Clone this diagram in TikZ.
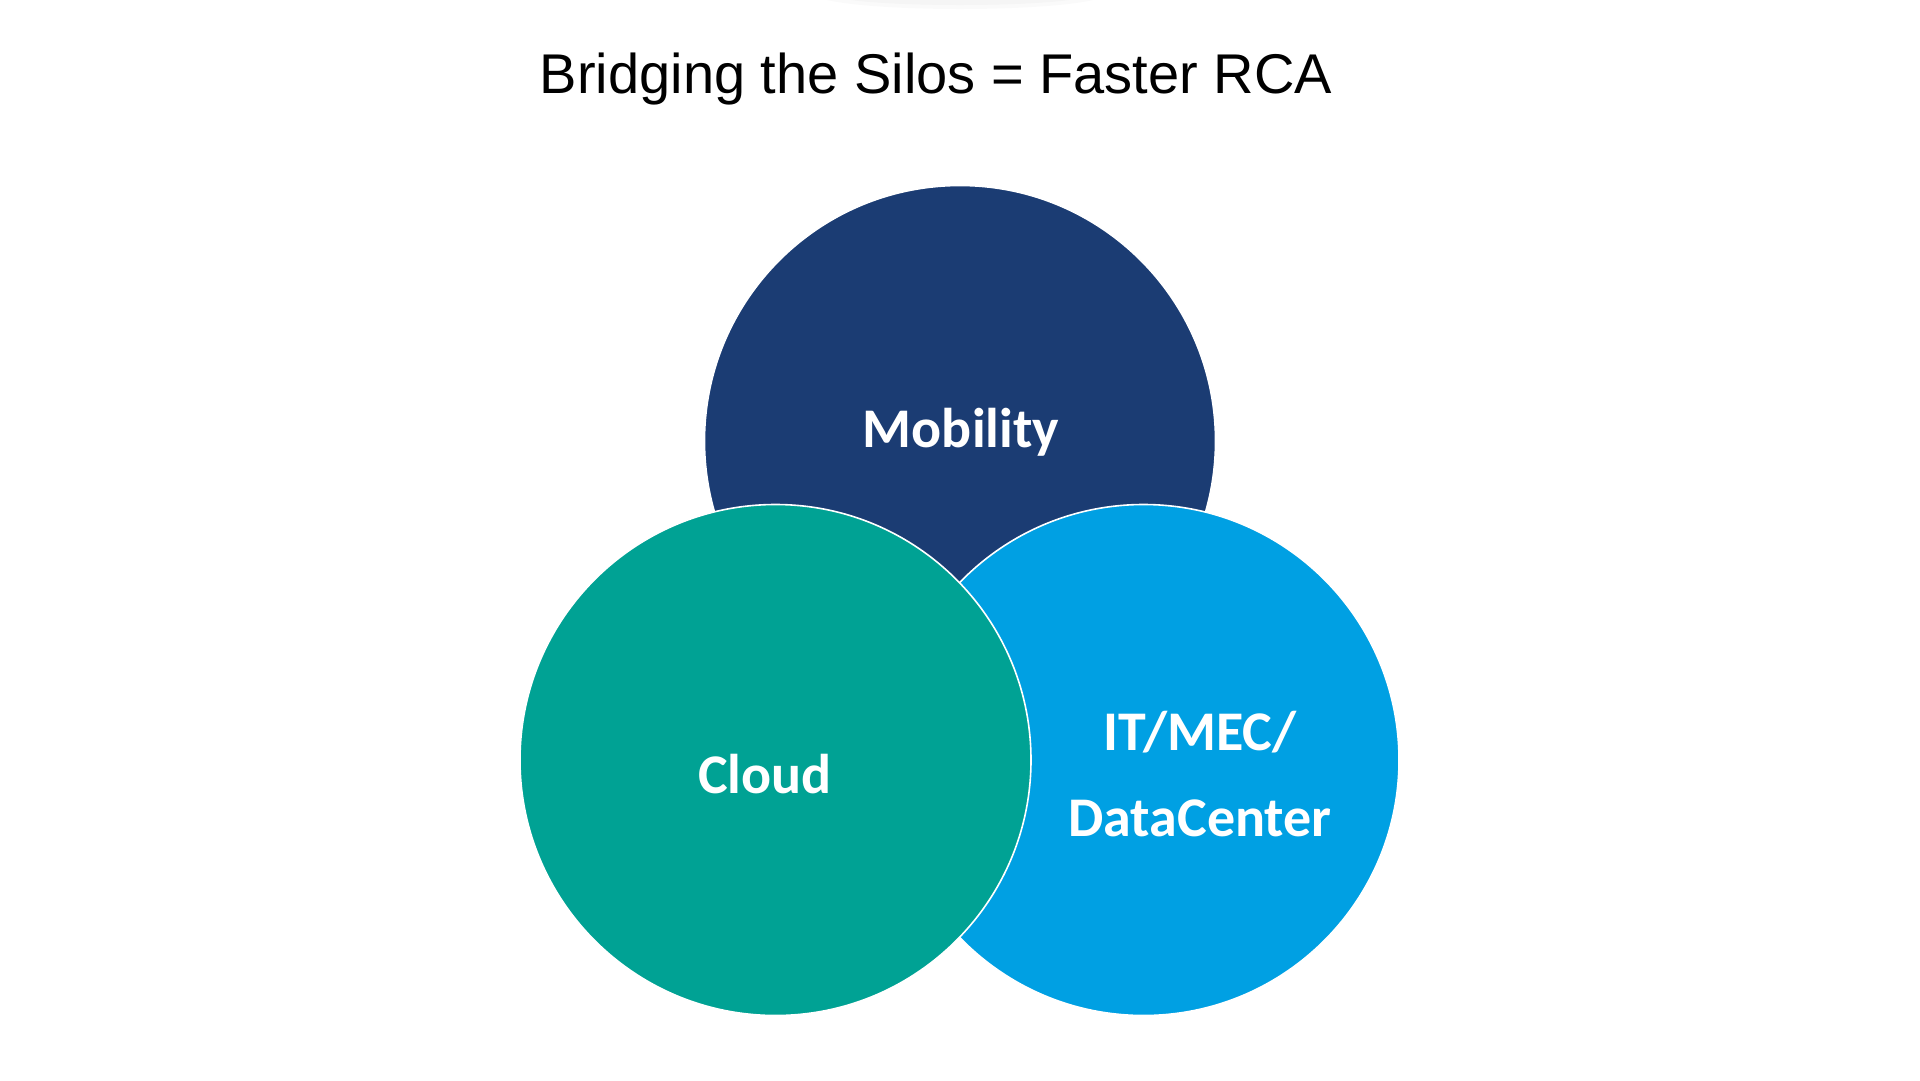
\documentclass[tikz,border=0pt]{standalone}
\usepackage{fontspec}
\setmainfont{Liberation Sans}
\newfontfamily\labelfont{Carlito}
\definecolor{navy}{RGB}{27,60,115}
\definecolor{teal2}{RGB}{0,162,148}
\definecolor{sky}{RGB}{0,160,227}
\begin{document}
\begin{tikzpicture}[x=1pt,y=-1pt,
  venn/.style={circle,draw=white,line width=1.6pt,minimum size=511pt,inner sep=0pt},
  lbl/.style={font=\labelfont\bfseries\fontsize{56}{86}\selectfont,text=white,align=center,inner sep=0pt,anchor=base}]
\useasboundingbox (0,0) rectangle (1920,1080);
% faint shadow at top
\fill[black!2] (960,-6) ellipse [x radius=145, y radius=15];
\fill[black!4] (960,-6) ellipse [x radius=130, y radius=11];
\node[font=\fontsize{56}{60}\selectfont,anchor=base] (title) at (936,93) {Bridging the Silos = Faster RCA};
\node[venn,fill=navy] (mob) at (960,441) {};
\node[venn,fill=sky] (it) at (1143.5,760) {};
\node[venn,fill=teal2] (cloud) at (775.5,760) {};
\node[lbl] (mobt) at (961,447) {Mobility};
\node[lbl] (cloudt) at (765,793) {Cloud};
\node[lbl] (itt) at (1200,750) {IT/MEC/};
\node[lbl] (dct) at (1200,836) {DataCenter};
\end{tikzpicture}
\end{document}
